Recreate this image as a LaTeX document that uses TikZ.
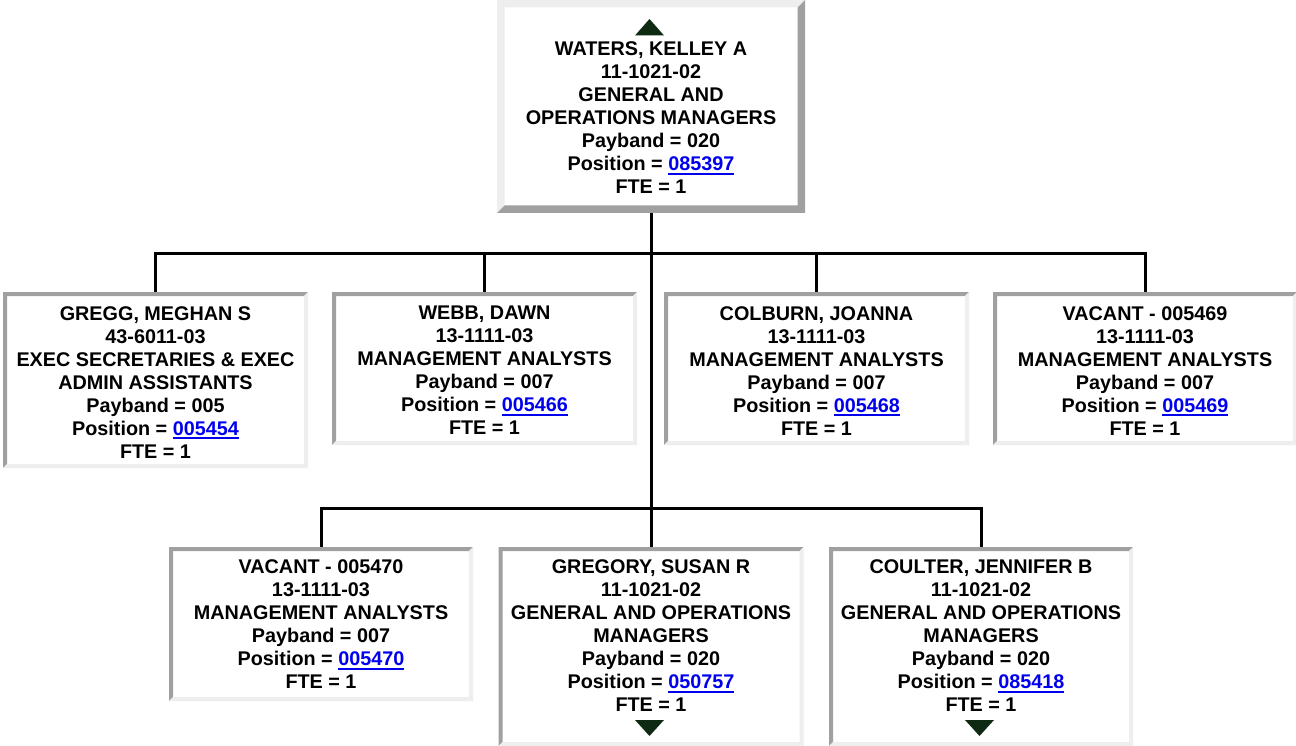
\documentclass[tikz,border=0pt]{standalone}
\usepackage{fontspec}
\setmainfont{Liberation Sans}
\definecolor{dk}{HTML}{A0A0A0}
\definecolor{lt}{HTML}{EEEEEE}
\definecolor{linkblue}{HTML}{0000EE}
\definecolor{trig}{HTML}{0F2A12}
\newcommand\lnk[1]{{\color{linkblue}\setbox0\hbox{#1}\rlap{\rule[-4.2pt]{\wd0}{1.8pt}}\box0}}
\tikzset{
  bevel/.style n args={5}{
    minimum width=#1, minimum height=#2, inner sep=0pt, outer sep=0pt, fill=white,
    path picture={
      \fill[#3] (path picture bounding box.south west) -- (path picture bounding box.north west)
        -- (path picture bounding box.north east)
        -- ([shift={(-#5,-#5)}]path picture bounding box.north east)
        -- ([shift={(#5,-#5)}]path picture bounding box.north west)
        -- ([shift={(#5,#5)}]path picture bounding box.south west) -- cycle;
      \fill[#4] (path picture bounding box.south west) -- (path picture bounding box.south east)
        -- (path picture bounding box.north east)
        -- ([shift={(-#5,-#5)}]path picture bounding box.north east)
        -- ([shift={(-#5,#5)}]path picture bounding box.south east)
        -- ([shift={(#5,#5)}]path picture bounding box.south west) -- cycle;
    }},
  inbox/.style 2 args={bevel={#1}{#2}{dk}{lt}{4pt}},
  outbox/.style 2 args={bevel={#1}{#2}{lt}{dk}{7.5pt}},
  txt/.style={align=center, inner sep=0pt, anchor=north,
    font=\bfseries\fontsize{19.8}{23}\selectfont},
  conn/.style={draw=black, line width=3pt},
  tri/.style={fill=trig}
}
\begin{document}
\begin{tikzpicture}[x=1pt,y=-1pt]
\useasboundingbox[fill=white] (0,0) rectangle (1296,746);
% connectors
\coordinate (bus1) at (651,254);
\coordinate (bus2) at (651,508);
% boxes
\node[outbox={308pt}{213pt}] (waters) at (651,106.5) {};
\node[inbox={305pt}{176pt}] (gregg) at (155.5,380) {};
\node[inbox={305pt}{153pt}] (webb) at (484.5,368.5) {};
\node[inbox={305pt}{153pt}] (colburn) at (816.5,368.5) {};
\node[inbox={304pt}{153pt}] (v469) at (1145,368.5) {};
\node[inbox={304pt}{154pt}] (v470) at (321,624) {};
\node[inbox={305pt}{199pt}] (gregory) at (651,646.5) {};
\node[inbox={304pt}{199pt}] (coulter) at (981,646.5) {};
\draw[conn] (gregg.north) |- (bus1) -| (v469.north);
\draw[conn] (webb.north) |- (bus1);
\draw[conn] (colburn.north) |- (bus1);
\draw[conn] (waters.south) -- (waters.south |- gregory.north);
\draw[conn] (v470.north) |- (bus2) -| (coulter.north);
% triangles
\fill[tri] (635,35.5) -- (664,35.5) -- (649.5,19) -- cycle;
\fill[tri] (635,720) -- (664,720) -- (649.5,736) -- cycle;
\fill[tri] (965,720) -- (994,720) -- (979.5,736) -- cycle;
% texts
\node[txt] (twaters) at (651,41.4) {WATERS, KELLEY A\\11-1021-02\\GENERAL AND\\OPERATIONS MANAGERS\\Payband = 020\\Position = \lnk{085397}\\FTE = 1};
\node[txt] (tgregg) at (155.5,306) {GREGG, MEGHAN S\\43-6011-03\\EXEC SECRETARIES \& EXEC\\ADMIN ASSISTANTS\\Payband = 005\\Position = \lnk{005454}\\FTE = 1};
\node[txt] (twebb) at (484.5,306) {WEBB, DAWN\\13-1111-03\\MANAGEMENT ANALYSTS\\Payband = 007\\Position = \lnk{005466}\\FTE = 1};
\node[txt] (tcolburn) at (816.5,306) {COLBURN, JOANNA\\13-1111-03\\MANAGEMENT ANALYSTS\\Payband = 007\\Position = \lnk{005468}\\FTE = 1};
\node[txt] (tv469) at (1145,306) {VACANT - 005469\\13-1111-03\\MANAGEMENT ANALYSTS\\Payband = 007\\Position = \lnk{005469}\\FTE = 1};
\node[txt] (tv470) at (321,559.4) {VACANT - 005470\\13-1111-03\\MANAGEMENT ANALYSTS\\Payband = 007\\Position = \lnk{005470}\\FTE = 1};
\node[txt] (tgregory) at (651,559.4) {GREGORY, SUSAN R\\11-1021-02\\GENERAL AND OPERATIONS\\MANAGERS\\Payband = 020\\Position = \lnk{050757}\\FTE = 1};
\node[txt] (tcoulter) at (981,559.4) {COULTER, JENNIFER B\\11-1021-02\\GENERAL AND OPERATIONS\\MANAGERS\\Payband = 020\\Position = \lnk{085418}\\FTE = 1};
\end{tikzpicture}
\end{document}
